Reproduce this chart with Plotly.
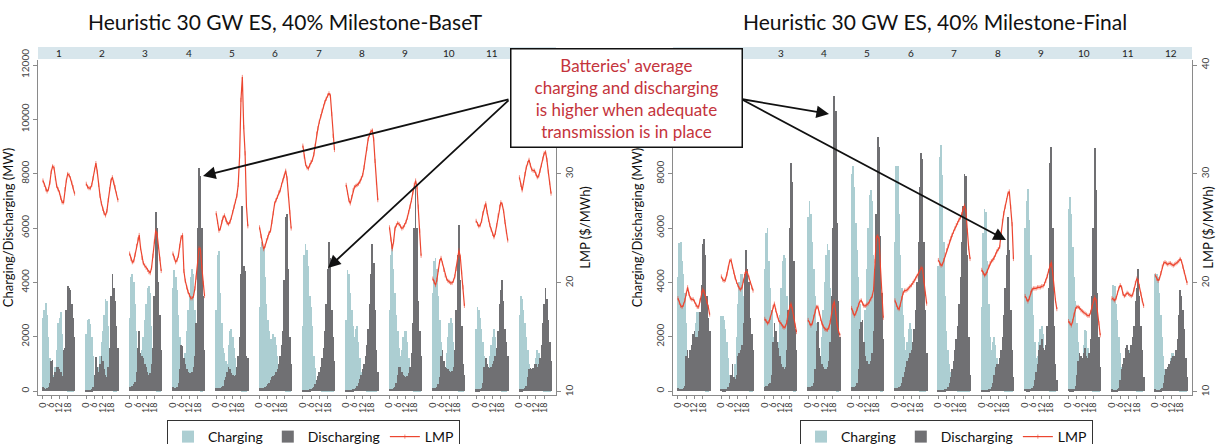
import plotly.graph_objects as go

W, H = 1216, 444
months = [str(m) for m in range(1, 13)]
hour_ticks = [0, 6, 12, 18]
hour_labels = ["0", "6", "12", "18"]
mw_ticks = [0, 2000, 4000, 6000, 8000, 10000, 12000]
lmp_ticks = [10, 20, 30, 40]

# ---------------- Left panel: 40% Milestone-BaseT ----------------
charge_L = [
    [2700, 3000, 3250, 2800, 2000, 1200, 400, 300, 600, 900, 1500, 2500, 2700, 2900, 2100, 800, 300, 100, 50, 30, 30, 30, 50, 100],
    [2100, 2600, 2650, 2450, 2000, 1300, 600, 300, 500, 900, 1300, 1800, 2200, 2800, 3400, 3300, 2400, 1200, 300, 100, 50, 30, 50, 100],
    [2700, 4200, 4300, 4000, 3200, 2200, 1200, 600, 800, 1500, 2000, 2600, 3200, 3800, 3850, 3600, 2400, 1000, 300, 100, 60, 40, 60, 100],
    [3800, 4450, 4200, 3700, 2800, 2000, 1000, 600, 700, 1400, 2200, 3000, 3600, 4200, 4500, 4300, 3000, 1500, 400, 100, 50, 50, 80, 150],
    [3000, 5000, 5150, 3600, 2500, 1600, 1400, 1100, 1000, 1700, 2200, 2300, 2000, 1600, 1200, 800, 500, 200, 100, 60, 40, 40, 60, 150],
    [3100, 5300, 5500, 5300, 4200, 3200, 2600, 2200, 1900, 1900, 2100, 2000, 1700, 1300, 900, 600, 300, 150, 80, 50, 40, 40, 60, 100],
    [2400, 5000, 5400, 5200, 4600, 3500, 3100, 2400, 1300, 850, 400, 250, 150, 100, 60, 40, 30, 30, 30, 30, 30, 30, 40, 80],
    [2600, 4450, 4300, 3600, 3000, 2400, 2000, 2300, 2400, 1800, 1200, 700, 400, 200, 100, 60, 40, 30, 30, 30, 30, 30, 40, 80],
    [3000, 5000, 5400, 4500, 3600, 2800, 2200, 1600, 1300, 1500, 2000, 2200, 2200, 1800, 1200, 600, 250, 100, 50, 30, 30, 30, 40, 80],
    [3600, 4800, 4900, 4500, 3500, 2600, 1800, 1200, 800, 900, 1400, 2000, 2500, 2700, 2500, 1800, 900, 300, 100, 50, 40, 40, 50, 100],
    [2300, 3100, 3000, 2700, 2300, 1800, 1300, 900, 700, 900, 1300, 1700, 2000, 2300, 2000, 1300, 600, 200, 80, 50, 40, 40, 50, 100],
    [2800, 3500, 3400, 3000, 2500, 2000, 1500, 1000, 600, 500, 700, 900, 1200, 1500, 1400, 900, 400, 150, 60, 40, 30, 30, 50, 100],
]
discharge_L = [
    [150, 100, 80, 100, 150, 300, 1100, 1150, 500, 700, 900, 900, 800, 700, 550, 1500, 1600, 3000, 3850, 3800, 3700, 3200, 2700, 2000],
    [50, 50, 40, 40, 60, 150, 600, 1250, 900, 700, 1000, 1300, 1100, 800, 600, 500, 900, 1600, 3500, 4300, 3800, 3300, 2400, 1600],
    [150, 150, 200, 250, 350, 700, 1600, 2200, 1400, 1300, 1200, 1000, 900, 700, 600, 650, 1000, 1600, 3500, 6600, 6000, 4000, 2800, 1500],
    [150, 120, 120, 150, 300, 800, 1700, 1650, 1200, 1000, 800, 700, 650, 650, 700, 900, 1300, 2500, 6000, 8200, 7900, 6000, 3500, 1500],
    [100, 100, 100, 120, 150, 200, 400, 500, 700, 900, 800, 650, 600, 550, 600, 900, 1300, 2000, 4300, 6800, 4600, 4400, 1300, 1200],
    [100, 100, 100, 120, 150, 200, 250, 300, 400, 500, 550, 600, 700, 800, 1000, 1300, 1700, 2200, 4100, 6400, 6500, 4500, 2000, 1000],
    [50, 40, 40, 40, 50, 60, 80, 100, 150, 250, 400, 550, 700, 900, 1200, 1600, 2200, 3200, 4500, 5500, 4900, 3000, 2000, 1100],
    [40, 40, 40, 40, 50, 60, 80, 120, 200, 300, 450, 600, 800, 1000, 1300, 1700, 2300, 3200, 4300, 5400, 4700, 3000, 1500, 700],
    [80, 80, 80, 100, 150, 300, 600, 900, 900, 700, 600, 550, 500, 550, 650, 900, 1400, 2500, 6000, 7500, 6000, 3300, 2200, 1300],
    [100, 100, 100, 150, 250, 500, 1300, 1500, 1100, 900, 850, 800, 750, 700, 750, 900, 1500, 3000, 5000, 6100, 4100, 2400, 1000, 600],
    [60, 60, 60, 80, 100, 300, 900, 1200, 1000, 900, 850, 900, 1000, 1100, 1300, 1600, 2200, 3200, 3700, 4100, 3300, 2300, 1800, 1300],
    [60, 60, 60, 80, 100, 200, 500, 800, 850, 800, 850, 1000, 1000, 900, 1000, 1200, 1700, 2500, 3200, 3800, 3400, 2600, 1800, 1100],
]
lmp_L = [
    [29.4, 29.0, 28.6, 28.4, 28.6, 29.2, 30.2, 30.7, 30.6, 29.6, 28.9, 28.6, 28.3, 27.8, 27.4, 27.4, 28.6, 29.4, 30.0, 29.9, 29.6, 29.2, 28.8, 28.2],
    [29.1, 28.8, 28.7, 28.7, 29.0, 29.6, 30.4, 31.0, 30.2, 29.0, 28.0, 27.3, 26.8, 26.4, 26.2, 26.6, 27.6, 28.6, 29.4, 29.7, 29.2, 28.8, 28.2, 27.6],
    [22.7, 22.2, 21.9, 22.0, 22.6, 23.4, 24.0, 24.4, 23.2, 22.3, 21.8, 21.6, 21.4, 21.2, 21.0, 20.9, 21.4, 22.5, 23.8, 24.8, 24.5, 23.3, 22.2, 21.1],
    [22.7, 22.3, 21.9, 22.1, 22.5, 23.4, 24.2, 24.4, 21.1, 20.2, 19.6, 19.2, 18.9, 18.6, 18.6, 18.8, 19.5, 20.5, 21.9, 23.2, 23.1, 21.5, 20.0, 18.8],
    [26.4, 25.6, 24.8, 25.0, 25.6, 26.0, 26.2, 25.8, 25.5, 25.4, 25.6, 26.0, 26.5, 27.0, 27.5, 28.0, 29.0, 31.6, 36.8, 38.9, 34.3, 31.9, 27.0, 25.2],
    [25.1, 24.3, 23.6, 23.1, 23.4, 23.9, 24.2, 24.6, 24.8, 25.6, 26.4, 27.3, 27.6, 27.9, 28.3, 28.5, 29.0, 29.4, 29.8, 30.3, 29.6, 28.0, 26.5, 25.0],
    [32.6, 31.6, 30.9, 30.6, 30.5, 30.8, 31.1, 31.3, 31.8, 32.6, 33.7, 34.2, 34.8, 35.3, 35.8, 36.2, 36.6, 36.9, 37.2, 37.4, 37.2, 35.5, 33.5, 32.2],
    [29.0, 28.3, 27.6, 27.3, 27.9, 28.5, 28.8, 28.9, 29.0, 29.1, 29.3, 29.6, 29.9, 30.6, 31.5, 32.3, 33.2, 33.6, 33.9, 34.0, 33.2, 31.2, 29.2, 27.6],
    [25.1, 24.0, 23.1, 23.8, 25.0, 25.3, 25.5, 25.4, 25.2, 25.0, 25.1, 25.3, 25.6, 26.0, 26.5, 27.0, 27.6, 28.3, 29.0, 29.4, 28.8, 27.0, 24.8, 22.5],
    [20.4, 20.1, 19.8, 20.3, 21.2, 22.0, 22.3, 21.8, 21.2, 20.7, 20.4, 20.2, 20.1, 20.0, 20.0, 20.2, 20.6, 21.3, 22.3, 23.0, 22.4, 21.0, 19.6, 17.9],
    [25.7, 25.4, 25.2, 25.3, 25.7, 26.4, 27.0, 27.3, 26.5, 25.8, 25.3, 24.9, 24.5, 24.2, 24.6, 25.3, 26.2, 27.0, 27.4, 27.2, 26.6, 25.6, 24.7, 23.9],
    [29.7, 29.0, 28.5, 29.2, 30.0, 30.6, 31.0, 31.3, 30.8, 30.4, 30.3, 30.3, 30.0, 29.7, 29.8, 30.3, 30.8, 31.4, 31.9, 32.0, 31.3, 30.2, 29.2, 28.2],
]

# ---------------- Right panel: 40% Milestone-Final ----------------
charge_R = [
    [4200, 5450, 5500, 4800, 4300, 3600, 2500, 1500, 800, 400, 400, 800, 1500, 2500, 2900, 2900, 2300, 1200, 400, 100, 50, 40, 50, 100],
    [2750, 2750, 2600, 2300, 1800, 1200, 600, 300, 200, 400, 1000, 2000, 3200, 4000, 4300, 4300, 3500, 2000, 700, 200, 80, 50, 50, 100],
    [4500, 5800, 6000, 4800, 3800, 3000, 2000, 1200, 900, 1200, 1800, 2800, 3800, 4800, 5000, 4900, 3500, 1800, 600, 200, 80, 50, 60, 100],
    [6400, 7000, 6500, 5500, 4500, 3500, 2500, 1500, 1000, 1200, 2000, 3000, 4000, 5000, 5400, 5200, 3800, 2000, 700, 200, 80, 50, 60, 100],
    [8000, 8300, 7500, 6200, 5200, 4200, 3200, 2200, 1500, 1800, 3000, 4500, 6000, 7200, 7400, 7000, 5000, 2500, 800, 200, 80, 50, 60, 150],
    [5500, 8300, 8300, 6500, 5000, 3800, 2800, 2000, 1500, 1800, 2300, 2500, 2300, 1800, 1200, 700, 300, 100, 50, 40, 40, 40, 50, 100],
    [4600, 8600, 9050, 7950, 5500, 3500, 2200, 1500, 1000, 700, 400, 250, 150, 100, 60, 40, 30, 30, 30, 30, 30, 30, 40, 80],
    [3100, 5800, 6700, 6600, 4800, 3200, 2000, 1500, 1800, 2000, 1700, 1200, 800, 500, 300, 150, 80, 40, 30, 30, 30, 30, 40, 80],
    [6000, 7000, 7450, 6300, 5000, 3800, 2800, 1800, 1200, 1300, 1800, 2300, 2400, 2100, 1500, 800, 300, 100, 50, 40, 30, 30, 40, 80],
    [6700, 7150, 6500, 5300, 4200, 3300, 2500, 1800, 1100, 900, 1100, 1700, 2250, 2200, 1600, 900, 400, 150, 60, 40, 30, 30, 40, 80],
    [3400, 3900, 3850, 3200, 2600, 2000, 1400, 900, 600, 700, 1000, 1300, 1500, 1500, 1200, 700, 300, 100, 50, 40, 30, 30, 40, 80],
    [4300, 4300, 4200, 3600, 2800, 2000, 1300, 800, 500, 600, 900, 1200, 1400, 1400, 1100, 600, 300, 100, 50, 40, 30, 30, 40, 80],
]
discharge_R = [
    [100, 80, 80, 80, 100, 200, 1300, 1500, 1200, 1500, 1700, 2100, 2200, 2000, 2000, 2200, 2900, 3900, 5400, 5600, 5000, 3500, 2700, 2200],
    [80, 60, 60, 60, 80, 150, 300, 600, 1000, 500, 450, 600, 1300, 1400, 1500, 1700, 2500, 4300, 5200, 4500, 4000, 2700, 2100, 1500],
    [150, 200, 200, 250, 300, 600, 1800, 2500, 2200, 1800, 1600, 1300, 1000, 900, 800, 900, 1500, 3000, 6000, 8400, 7700, 4800, 2300, 1500],
    [150, 150, 150, 200, 300, 800, 2200, 2550, 1600, 1300, 1000, 900, 800, 800, 900, 1100, 1800, 3500, 6000, 10850, 10300, 6200, 3300, 2000],
    [150, 150, 150, 200, 300, 800, 2300, 2550, 2600, 1800, 1300, 1100, 1000, 1000, 1100, 1400, 2200, 4500, 6500, 9350, 9000, 5700, 3600, 1900],
    [100, 100, 100, 150, 200, 300, 500, 700, 900, 1100, 1200, 1400, 1500, 1800, 2300, 3000, 4000, 5500, 7500, 8750, 8550, 5500, 3000, 1400],
    [50, 40, 40, 40, 50, 60, 80, 150, 300, 500, 800, 1100, 1500, 1900, 2400, 3200, 4200, 5500, 6800, 8000, 7900, 5000, 2000, 600],
    [50, 40, 40, 40, 50, 60, 80, 150, 300, 600, 900, 1000, 1000, 1200, 1500, 2000, 2800, 3800, 5000, 6400, 5200, 3000, 1500, 500],
    [80, 60, 60, 60, 80, 100, 200, 400, 700, 1000, 1500, 1700, 1900, 1600, 1500, 1700, 2400, 3800, 8400, 9000, 6000, 2400, 1000, 400],
    [80, 60, 60, 60, 80, 200, 600, 1100, 1400, 1300, 1200, 1400, 1600, 1300, 1200, 1400, 1900, 3500, 6000, 8950, 7400, 3600, 2000, 900],
    [60, 50, 50, 50, 60, 100, 400, 800, 1000, 1200, 1600, 1700, 1500, 1400, 1700, 2000, 2400, 3300, 3800, 4500, 3500, 2400, 1500, 500],
    [60, 50, 50, 50, 60, 100, 300, 600, 800, 900, 1000, 1100, 1200, 1300, 1300, 1500, 1900, 2800, 3700, 3500, 3000, 2300, 1200, 500],
]
lmp_R = [
    [18.6, 18.2, 17.9, 17.8, 18.0, 18.4, 19.0, 19.6, 19.0, 18.6, 18.5, 18.5, 18.3, 18.0, 17.8, 17.8, 18.4, 19.1, 19.4, 19.2, 18.8, 18.3, 17.8, 17.1],
    [20.6, 20.3, 20.2, 20.3, 20.8, 21.4, 22.0, 22.1, 21.5, 21.0, 20.5, 20.1, 19.8, 19.5, 19.4, 19.6, 20.2, 20.8, 21.1, 20.9, 20.5, 20.0, 19.6, 19.3],
    [16.7, 16.5, 16.3, 16.4, 16.8, 17.3, 17.8, 18.1, 17.5, 17.0, 16.6, 16.4, 16.2, 16.0, 15.9, 16.0, 16.4, 17.2, 17.8, 18.1, 17.6, 16.9, 16.1, 15.5],
    [16.6, 16.3, 16.1, 16.3, 16.9, 17.4, 17.8, 17.8, 17.2, 16.7, 16.3, 16.0, 15.8, 15.7, 15.7, 15.9, 16.4, 17.2, 17.9, 18.3, 17.2, 16.2, 15.6, 15.2],
    [17.7, 17.3, 17.0, 17.2, 17.6, 18.0, 18.3, 18.4, 18.1, 17.9, 17.9, 18.0, 18.1, 18.3, 18.5, 18.8, 19.4, 22.0, 24.2, 24.3, 24.0, 21.4, 19.0, 16.8],
    [18.4, 18.0, 17.7, 17.6, 18.0, 18.6, 19.1, 19.3, 19.3, 19.4, 19.5, 19.7, 19.8, 20.0, 20.2, 20.4, 20.6, 20.8, 21.1, 21.4, 21.3, 20.2, 19.0, 18.1],
    [22.1, 21.8, 21.6, 21.7, 22.1, 22.6, 23.0, 23.4, 23.8, 24.1, 24.4, 24.7, 25.0, 25.3, 25.5, 25.8, 26.0, 26.3, 26.8, 27.1, 26.6, 24.8, 23.2, 22.2],
    [21.2, 20.9, 20.7, 20.8, 21.1, 21.5, 21.8, 22.0, 22.1, 22.3, 22.6, 22.9, 23.1, 23.3, 24.5, 25.7, 26.4, 27.0, 27.6, 28.2, 28.4, 27.0, 25.4, 22.2],
    [18.8, 18.5, 18.3, 18.6, 19.1, 19.4, 19.5, 19.5, 19.5, 19.6, 19.6, 19.6, 19.7, 19.7, 19.9, 20.2, 20.6, 21.1, 21.6, 21.9, 20.9, 19.4, 18.4, 17.6],
    [16.5, 16.3, 16.1, 16.5, 17.1, 17.6, 17.8, 17.8, 17.7, 17.5, 17.4, 17.3, 17.2, 17.1, 17.0, 17.0, 17.3, 17.8, 18.4, 18.7, 18.4, 17.5, 16.3, 15.2],
    [18.6, 18.5, 18.4, 18.6, 19.1, 19.5, 19.8, 19.6, 19.0, 18.8, 18.9, 19.1, 19.0, 18.9, 18.8, 18.9, 19.4, 20.0, 20.4, 20.2, 19.7, 19.0, 18.4, 17.9],
    [20.7, 20.4, 20.2, 20.4, 20.9, 21.5, 21.8, 21.9, 21.8, 21.7, 21.8, 21.8, 21.7, 21.6, 21.7, 21.8, 21.9, 22.0, 22.2, 22.0, 21.5, 21.0, 20.5, 20.0],
]

titles = ["Heuristic 30 GW ES, 40% Milestone-BaseT", "Heuristic 30 GW ES, 40% Milestone-Final"]
note_lines = ["Batteries' average", "charging and discharging", "is higher when adequate", "transmission is in place"]

# ---------------- layout helpers ----------------
FONT = "Lato"
C_CHG = "#acced2"
C_DIS = "#707073"
C_LMP = "#ec4630"
PITCH = 31.5            # x-units between month facets (24 hours + gap)
MT, MB = 60, 49         # plot area top / bottom margin (px)
PH = H - MT - MB
BAR_W = 0.55

def px_to_paper_y(py):
    return (H - MB - py) / PH

def xpos(m, h):
    return m * PITCH + h

fig = go.Figure()
panels = [
    dict(ch=charge_L, dis=discharge_L, lmp=lmp_L, xa="x", ya="y", ya2="y2", leg="legend"),
    dict(ch=charge_R, dis=discharge_R, lmp=lmp_R, xa="x2", ya="y3", ya2="y4", leg="legend2"),
]

for p in panels:
    bx, bc, bd, lx, ly = [], [], [], [], []
    for m in range(12):
        for h in range(24):
            bx.append(xpos(m, h))
            bc.append(p["ch"][m][h])
            bd.append(p["dis"][m][h])
            lx.append(xpos(m, h))
            ly.append(p["lmp"][m][h])
        lx.append(None)
        ly.append(None)
    fig.add_trace(go.Bar(x=bx, y=bc, name="Charging", marker=dict(color=C_CHG, line=dict(width=0)),
                         width=BAR_W, xaxis=p["xa"], yaxis=p["ya"], legend=p["leg"]))
    fig.add_trace(go.Bar(x=bx, y=bd, name="Discharging", marker=dict(color=C_DIS, line=dict(width=0)),
                         width=BAR_W, xaxis=p["xa"], yaxis=p["ya"], legend=p["leg"]))
    fig.add_trace(go.Scatter(x=lx, y=ly, name="LMP", mode="lines+markers", connectgaps=False,
                             line=dict(color=C_LMP, width=1.2),
                             marker=dict(symbol="line-ns-open", size=3, color=C_LMP, line=dict(width=0.6, color=C_LMP)),
                             xaxis=p["xa"], yaxis=p["ya2"], legend=p["leg"]))

tickvals = [xpos(m, h) for m in range(12) for h in hour_ticks]
ticktext = [t for m in range(12) for t in hour_labels]
xrange = [-3.6, xpos(11, 23) + 3.6]
y_range = [-147, 12184]
y2_range = [9.72, 40.46]

common_x = dict(range=xrange, tickmode="array", tickvals=tickvals, ticktext=ticktext, tickangle=-90,
                tickfont=dict(family=FONT, size=9, color="#333"), showline=True, linecolor="#8a8a8a",
                linewidth=1, ticks="outside", ticklen=3, tickcolor="#8a8a8a", showgrid=False,
                zeroline=False, automargin=False, fixedrange=True)
common_y = dict(range=y_range, tickmode="array", tickvals=mw_ticks, ticktext=[str(v) for v in mw_ticks],
                tickangle=-90, tickfont=dict(family=FONT, size=10, color="#444"), showline=True,
                linecolor="#8a8a8a", linewidth=1, ticks="outside", ticklen=4, tickcolor="#8a8a8a",
                showgrid=False, zeroline=False, automargin=False,
                title=dict(text="Charging/Discharging (MW)", font=dict(family=FONT, size=13, color="#111"), standoff=8))
common_y2 = dict(range=y2_range, tickmode="array", tickvals=lmp_ticks, ticktext=[str(v) for v in lmp_ticks],
                 tickangle=-90, tickfont=dict(family=FONT, size=10, color="#444"), showline=True,
                 linecolor="#8a8a8a", linewidth=1, ticks="outside", ticklen=4, tickcolor="#8a8a8a",
                 showgrid=False, zeroline=False, automargin=False, side="right",
                 title=dict(text="LMP ($/MWh)", font=dict(family=FONT, size=13, color="#111"), standoff=6))

domL = [38 / W, 556 / W]
domR = [673 / W, 1192 / W]

fig.update_layout(
    width=W, height=H, margin=dict(l=0, r=0, t=MT, b=MB, autoexpand=False),
    paper_bgcolor="white", plot_bgcolor="white", barmode="overlay", bargap=0,
    xaxis=dict(domain=domL, anchor="y", **common_x),
    xaxis2=dict(domain=domR, anchor="y3", **common_x),
    yaxis=dict(anchor="x", **common_y),
    yaxis2=dict(anchor="x", overlaying="y", **common_y2),
    yaxis3=dict(anchor="x2", **common_y),
    yaxis4=dict(anchor="x2", overlaying="y3", **common_y2),
    legend=dict(orientation="h", x=167 / W, y=px_to_paper_y(420), xanchor="left", yanchor="top",
                bordercolor="#333", borderwidth=1, font=dict(family=FONT, size=14, color="#111"),
                itemwidth=30, tracegroupgap=0),
    legend2=dict(orientation="h", x=800 / W, y=px_to_paper_y(420), xanchor="left", yanchor="top",
                 bordercolor="#333", borderwidth=1, font=dict(family=FONT, size=14, color="#111"),
                 itemwidth=30, tracegroupgap=0),
    font=dict(family=FONT),
)

shapes = []
annotations = []
strip_top, strip_bot = px_to_paper_y(47), px_to_paper_y(59)
for dom, xa in [(domL, "x"), (domR, "x2")]:
    shapes.append(dict(type="rect", xref="paper", yref="paper", x0=dom[0], x1=dom[1],
                       y0=strip_bot, y1=strip_top, fillcolor="#d8e6ec", line=dict(width=0), layer="below"))
    for m in range(12):
        annotations.append(dict(x=xpos(m, 11.5), y=(strip_top + strip_bot) / 2, xref=xa, yref="paper",
                                text=months[m], showarrow=False, yanchor="middle",
                                font=dict(family=FONT, size=10, color="#222")))

for i, t in enumerate(titles):
    cx = [285, 935][i]
    annotations.append(dict(x=cx / W, y=px_to_paper_y(21), xref="paper", yref="paper", text=t, showarrow=False,
                            font=dict(family=FONT, size=21, color="#111"), xanchor="center", yanchor="middle"))

# callout box
annotations.append(dict(x=626 / W, y=px_to_paper_y(97.5), xref="paper", yref="paper",
                        text="<br>".join(note_lines), showarrow=False, align="center",
                        xanchor="center", yanchor="middle",
                        font=dict(family=FONT, size=17, color="#c4343c"), bgcolor="white",
                        bordercolor="#111", borderwidth=1.5, borderpad=5, width=220))

# arrows: (tail px, head px)
arrows = [((510, 99), (203, 176)), ((510, 99), (328, 268)), ((741, 99), (829, 114)), ((741, 99), (1006, 240))]
for (tx, ty), (hx, hy) in arrows:
    annotations.append(dict(x=hx / W, y=px_to_paper_y(hy), xref="paper", yref="paper", text="",
                            showarrow=True, ax=tx - hx, ay=ty - hy, axref="pixel", ayref="pixel",
                            arrowhead=2, arrowsize=1.4, arrowwidth=1.8, arrowcolor="#111", standoff=0))

fig.update_layout(shapes=shapes, annotations=annotations)
fig.write_html("out.html", config={"displayModeBar": False},
               post_script="document.body.style.margin='0';document.body.style.padding='0';")
